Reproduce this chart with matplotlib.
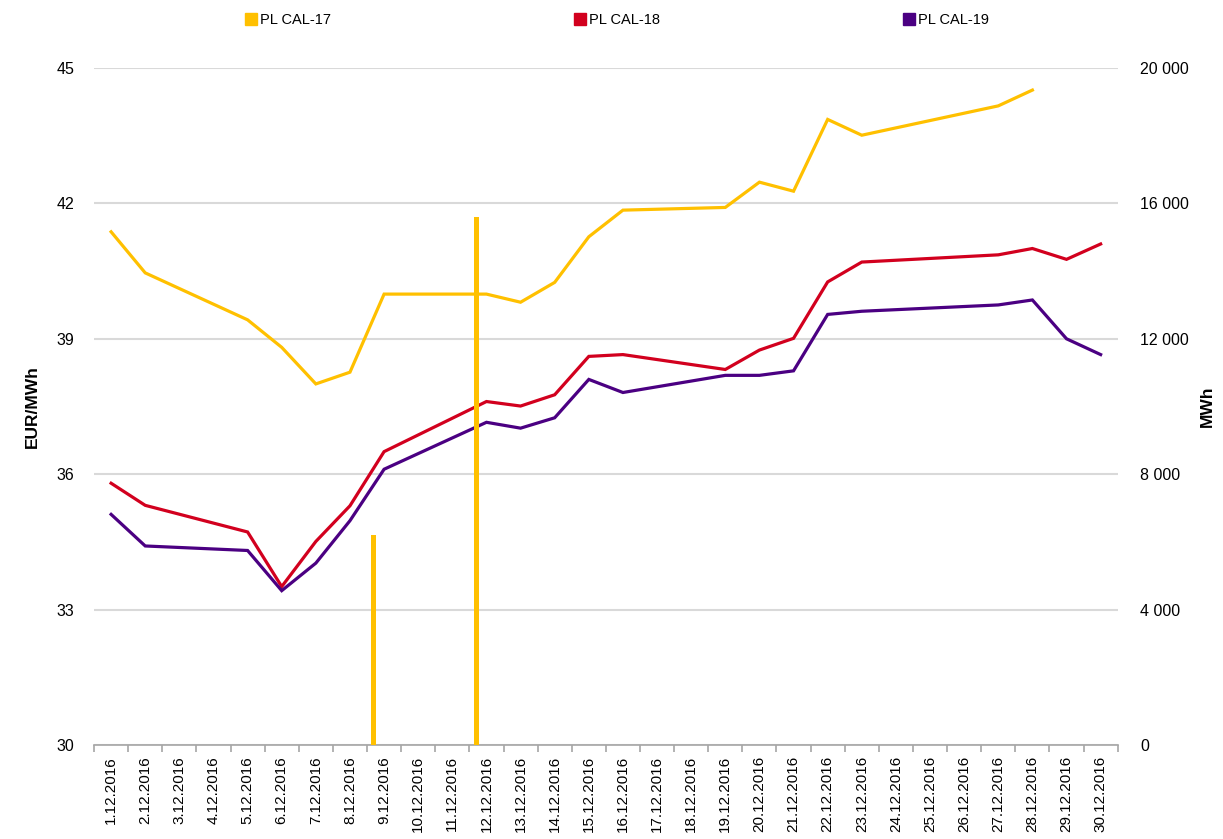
import matplotlib.pyplot as plt
from matplotlib.lines import Line2D
import numpy as np

plt.rcParams['font.family'] = ['Liberation Sans', 'DejaVu Sans']

dni = [f"{d}.12.2016" for d in range(1, 31)]
nan = np.nan

# ceny EUR/MWh (weekendy i swieta bez notowan)
cal17 = [41.37, 40.46, nan, nan, 39.42, 38.81, 38.00, 38.26, 39.99, nan, nan, 39.99,
         39.81, 40.25, 41.26, 41.85, nan, nan, 41.91, 42.47, 42.27, 43.86, 43.51,
         nan, nan, nan, 44.16, 44.51, nan, nan]
cal18 = [35.80, 35.31, nan, nan, 34.72, 33.51, 34.51, 35.30, 36.50, nan, nan, 37.61,
         37.51, 37.76, 38.61, 38.65, nan, nan, 38.32, 38.75, 39.01, 40.26, 40.70,
         nan, nan, nan, 40.86, 41.00, 40.76, 41.10]
cal19 = [35.11, 34.41, nan, nan, 34.31, 33.42, 34.03, 34.97, 36.11, nan, nan, 37.15,
         37.02, 37.25, 38.10, 37.81, nan, nan, 38.19, 38.19, 38.29, 39.54, 39.61,
         nan, nan, nan, 39.75, 39.86, 39.00, 38.65]

# wolumen MWh (tylko CAL-17)
wol17 = [0, 0, 0, 0, 0, 0, 0, 0, 6200, 0, 0, 15600, 0, 0, 0, 0, 0, 0, 0, 0, 0, 0,
         0, 0, 0, 0, 0, 0, 0, 0]

nazwy = ['PL CAL-17', 'PL CAL-18', 'PL CAL-19']
kolory = ['#FFC000', '#D2001E', '#4B0082']


def main():
    fig = plt.figure(figsize=(12.23, 8.39), dpi=100)
    ax = fig.add_axes([0.0769, 0.112, 0.837, 0.807])
    ax2 = ax.twinx()

    x = np.arange(len(dni))
    for seria, kol in zip([cal17, cal18, cal19], kolory):
        s = np.array(seria, dtype=float)
        ok = ~np.isnan(s)
        ax.plot(x[ok], s[ok], color=kol, lw=2.3, solid_joinstyle='miter', zorder=3)

    ax2.bar(x - 0.3, wol17, width=0.15, color=kolory[0], zorder=4)

    ax.set_xlim(-0.5, len(dni) - 0.5)
    ax.set_ylim(30, 45)
    ax.set_yticks(np.arange(30, 46, 3))
    ax2.set_ylim(0, 20000)
    ax2.set_yticks(np.arange(0, 20001, 4000))
    ax2.set_yticklabels(['0', '4 000', '8 000', '12 000', '16 000', '20 000'])

    ax.set_xticks(x)
    ax.set_xticklabels(dni, rotation=90, fontsize=11)
    ax.set_xticks(np.arange(-0.5, len(dni)), minor=True)
    ax.tick_params(axis='x', which='major', length=0, pad=8)
    ax.tick_params(axis='x', which='minor', length=5, color='#A6A6A6', width=1.2)
    ax.tick_params(axis='y', length=0, labelsize=11.5, pad=14)
    ax2.tick_params(axis='y', length=0, labelsize=11.5, pad=16)

    ax.grid(axis='y', color='#D9D9D9', lw=1.5)
    ax.set_axisbelow(True)
    for a in (ax, ax2):
        for k in ('top', 'left', 'right'):
            a.spines[k].set_visible(False)
    ax.spines['bottom'].set_color('#A6A6A6')
    ax.spines['bottom'].set_linewidth(1.2)
    ax2.spines['bottom'].set_visible(False)

    ax.set_ylabel('EUR/MWh', fontsize=12.5, fontweight='bold', labelpad=12)
    ax2.set_ylabel('MWh', fontsize=12.5, fontweight='bold', labelpad=8)

    uchwyty = [Line2D([], [], marker='s', ls='none', color=k, markersize=8) for k in kolory]
    fig.legend(uchwyty, nazwy, loc='upper center', bbox_to_anchor=(0.504, 1.0), ncol=3,
               frameon=False, fontsize=10.5, columnspacing=16.6, handletextpad=0.1,
               handlelength=1.0)

    fig.savefig('out.png', dpi=100)


if __name__ == "__main__":
    main()
